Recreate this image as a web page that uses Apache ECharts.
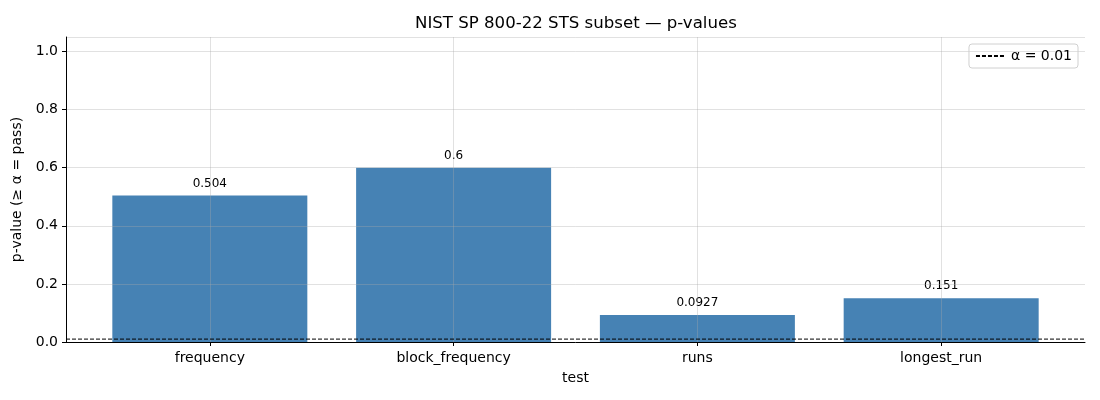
<!DOCTYPE html>
<html>
<head>
<meta charset="utf-8">
<script src="https://cdn.jsdelivr.net/npm/echarts@6/dist/echarts.min.js"></script>
<style>
  html, body { margin: 0; padding: 0; background: #fff; }
  #chart { width: 1100px; height: 400px; }
</style>
</head>
<body>
<div id="chart"></div>
<script>
// 测试名称与 p 值
var tests = ['frequency', 'block_frequency', 'runs', 'longest_run'];
var pValues = [0.504, 0.6, 0.0927, 0.151];
var alpha = 0.01;
var testTicks = [0, 1, 2, 3];

var font = 'DejaVu Sans';
var myChart = echarts.init(document.getElementById('chart'));

var barData = [];
for (var i = 0; i < pValues.length; i++) {
    barData.push([testTicks[i], pValues[i]]);
}
var xMin = -0.59, xMax = tests.length - 1 + 0.59;

var options = {
    animation: false,
    textStyle: { fontFamily: font },
    title: {
        text: 'NIST SP 800-22 STS subset — p-values',
        left: 415,
        top: 15,
        padding: 0,
        textStyle: { fontFamily: font, fontSize: 16.6, fontWeight: 'normal', color: '#000' }
    },
    legend: {
        data: [{ name: 'α = ' + alpha }],
        right: 22,
        top: 44,
        orient: 'vertical',
        itemWidth: 30,
        itemHeight: 2,
        padding: [5, 6, 5, 6],
        borderColor: '#d0d0d0',
        borderWidth: 1,
        borderRadius: 3,
        textStyle: { fontFamily: font, fontSize: 14, color: '#000' }
    },
    grid: { left: 66, right: 15, top: 37, bottom: 58 },
    xAxis: {
        type: 'value',
        min: xMin,
        max: xMax,
        z: 3,
        name: 'test',
        nameLocation: 'middle',
        nameGap: 29,
        nameTextStyle: { fontFamily: font, fontSize: 14, color: '#000' },
        axisLine: { onZero: false, lineStyle: { color: '#000', width: 1 } },
        axisTick: { customValues: testTicks, length: 4, lineStyle: { color: '#000' } },
        axisLabel: {
            customValues: testTicks,
            fontFamily: font, fontSize: 14, color: '#000', margin: 9,
            formatter: function (v) { return tests[Math.round(v)]; }
        },
        splitLine: { show: true, lineStyle: { color: 'rgba(170,170,170,0.35)', width: 1 } }
    },
    yAxis: {
        type: 'value',
        min: 0,
        max: 1.05,
        interval: 0.2,
        z: 3,
        name: 'p-value (≥ α = pass)',
        nameLocation: 'middle',
        nameGap: 40,
        nameTextStyle: { fontFamily: font, fontSize: 14, color: '#000' },
        axisLine: { show: true, onZero: false, lineStyle: { color: '#000', width: 1 } },
        axisTick: { show: true, length: 4, lineStyle: { color: '#000' } },
        axisLabel: {
            fontFamily: font, fontSize: 14, color: '#000', margin: 8,
            showMaxLabel: false,
            formatter: function (v) { return v.toFixed(1); }
        },
        splitLine: { show: true, lineStyle: { color: 'rgba(170,170,170,0.35)', width: 1 } }
    },
    series: [{
        type: 'bar',
        data: barData,
        barWidth: 195,
        itemStyle: { color: '#4682b4' },
        label: {
            show: true,
            position: 'top',
            distance: 6,
            fontFamily: font,
            fontSize: 12,
            color: '#000',
            formatter: function (p) { return String(p.value[1]); }
        }
    }, {
        name: 'α = ' + alpha,
        type: 'line',
        z: 5,
        data: [[xMin, alpha], [xMax, alpha]],
        symbol: 'none',
        lineStyle: { color: '#000', width: 1, type: [4, 2] },
        itemStyle: { color: '#000' }
    }]
};
myChart.setOption(options, true);
</script>
</body>
</html>
